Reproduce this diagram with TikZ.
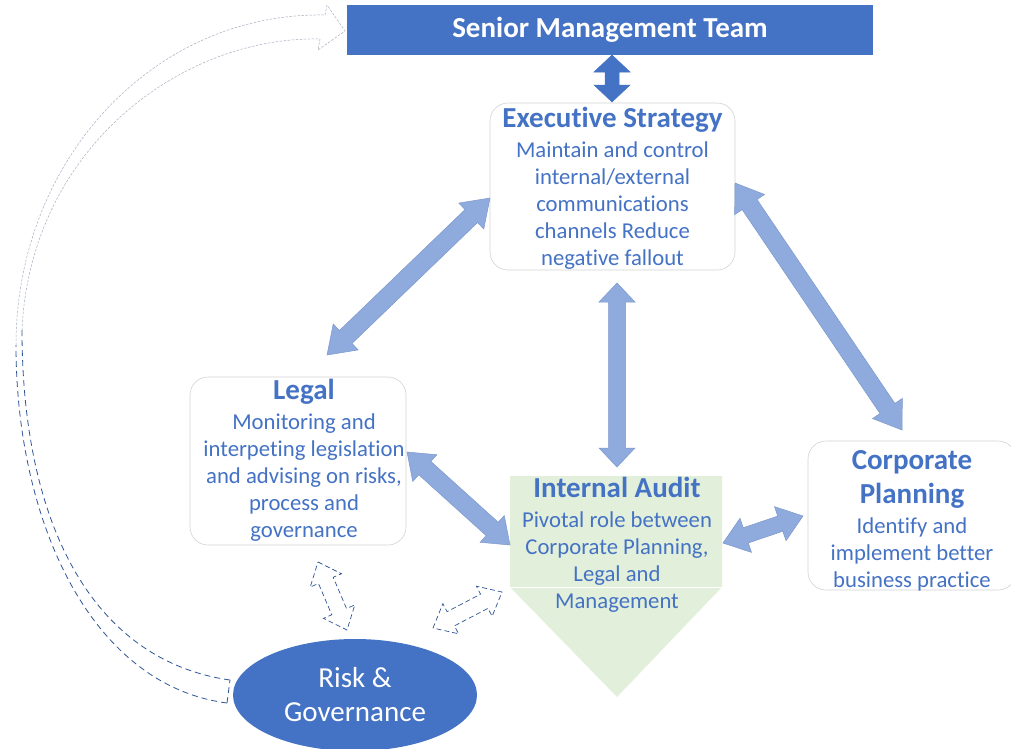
\documentclass[tikz,border=0pt]{standalone}
\usepackage{fontspec}
\setmainfont[Ligatures=NoCommon]{Carlito}
\usetikzlibrary{calc,shapes.geometric}
\definecolor{mblue}{HTML}{4472C4}
\definecolor{lblue}{HTML}{8FAADC}
\definecolor{lblueb}{HTML}{7C98CC}
\definecolor{dblue}{HTML}{2F5597}
\definecolor{lgreen}{HTML}{E2EFDA}
\definecolor{boxb}{HTML}{D3D3D3}
\definecolor{curvegray}{HTML}{A6AEBF}
\newcommand\dblarr[6]{%
  \coordinate (da1) at ($(#2)!#6!(#3)$);
  \coordinate (da2) at ($(#3)!#6!(#2)$);
  \draw[#1] (#2) -- ($(da1)!#5!90:(#3)$) -- ($(da1)!#4!90:(#3)$) -- ($(da2)!#4!90:(#3)$) -- ($(da2)!#5!90:(#3)$) -- (#3) -- ($(da2)!#5!-90:(#3)$) -- ($(da2)!#4!-90:(#3)$) -- ($(da1)!#4!-90:(#3)$) -- ($(da1)!#5!-90:(#3)$) -- cycle;
}
\tikzset{
  infobox/.style={draw=boxb, fill=white, rounded corners=18pt, inner sep=0pt, line width=0.6pt},
  infotext/.style={text=mblue, align=center, inner sep=0pt, font=\fontsize{22.7}{27}\selectfont},
  barrow/.style={fill=lblue, draw=lblueb, line width=0.5pt},
  darrow/.style={fill=mblue, draw=mblue, line width=0.5pt},
  dasharrow/.style={draw=dblue, line width=0.7pt, dash pattern=on 5pt off 3pt},
  curveA/.style={draw=curvegray, line width=0.5pt, dash pattern=on 2.5pt off 1.5pt},
  curveB/.style={draw=dblue, line width=0.8pt, dash pattern=on 6pt off 4pt},
}
\newcommand\ttlfont{\fontsize{29}{32}\selectfont\bfseries}
\begin{document}
\begin{tikzpicture}[x=1pt,y=-1pt]
\useasboundingbox (0,0) rectangle (1011,748);
\fill[white] (0,0) rectangle (1011,748);

% Senior management team
\node[fill=mblue, minimum width=526pt, minimum height=50pt, inner sep=0pt, text=white, font=\fontsize{29}{32}\selectfont\bfseries] (smt) at (610,30) {Senior Management Team};

% Executive Strategy
\node[infobox, minimum width=245pt, minimum height=167pt] (es) at (612.5,186.5) {};
\node[infotext] (es-text) at (612.5,188.5)
 {{\ttlfont Executive Strategy}\\[3pt]Maintain and control\\internal/external\\communications\\channels Reduce\\negative fallout};

% Legal
\node[infobox, minimum width=216pt, minimum height=168pt] (legal) at (298,461) {};
\node[infotext] (legal-text) at (304,460)
 {{\ttlfont Legal}\\[3pt]Monitoring and\\interpeting legislation\\and advising on risks,\\process and\\governance};

% Corporate Planning
\node[infobox, minimum width=208pt, minimum height=149pt] (cp) at (912,515.5) {};
\node[infotext] (cp-text) at (912,521)
 {{\ttlfont Corporate}\\[7pt]{\ttlfont Planning}\\[3pt]Identify and\\implement better\\business practice};

% Internal Audit
\fill[lgreen] (510,476) -- (722,476) -- (722,587) -- (617,697) -- (510,587) -- cycle;
\draw[white, line width=0.6pt] (510,587) -- (722,587);
\node[infotext] (ia) at (617,544.5)
 {{\ttlfont Internal Audit}\\[3pt]Pivotal role between\\Corporate Planning,\\Legal and\\Management};

% Risk & Governance
\node[ellipse, fill=mblue, minimum width=244pt, minimum height=112pt, inner sep=0pt, text=white, align=center, font=\fontsize{29}{34}\selectfont] (rg) at (355,695) {Risk \&\\Governance};

% connector end points
\coordinate (smt-s) at (612,55);
\coordinate (es-n) at (612,102);
\coordinate (es-w) at (490,198);
\coordinate (legal-ne) at (327,355);
\coordinate (es-e) at (735,183);
\coordinate (cp-n) at (902,430);
\coordinate (es-s) at (617,283);
\coordinate (ia-n) at (617,467);
\coordinate (legal-e) at (407,452);
\coordinate (ia-w) at (510,545);
\coordinate (ia-e) at (723,543);
\coordinate (cp-w) at (803,516);
\coordinate (legal-s) at (318,562);
\coordinate (rg-n) at (347,630);
\coordinate (rg-ne) at (433,628);
\coordinate (ia-sw) at (502,592);

\dblarr{darrow}{smt-s}{es-n}{7pt}{18pt}{17pt}
\dblarr{barrow}{es-w}{legal-ne}{9pt}{18pt}{26pt}
\dblarr{barrow}{es-e}{cp-n}{9pt}{18pt}{26pt}
\dblarr{barrow}{es-s}{ia-n}{8.5pt}{18pt}{19pt}
\dblarr{barrow}{legal-e}{ia-w}{9pt}{18pt}{24pt}
\dblarr{barrow}{ia-e}{cp-w}{8pt}{18pt}{24pt}
\dblarr{dasharrow}{legal-s}{rg-n}{8pt}{17pt}{20pt}
\dblarr{dasharrow}{rg-ne}{ia-sw}{8pt}{17pt}{20pt}

% big curved dashed arrow from Risk & Governance to Senior Management Team
\coordinate (c-o1) at (227,703);
\coordinate (c-i1) at (230,680);
\coordinate (c-o2) at (16,345);
\coordinate (c-i2) at (22,330);
\coordinate (c-o3) at (325,15);
\coordinate (c-i3) at (320,39);
\coordinate (c-h1) at (327,5);
\coordinate (c-h2) at (318,50);
\coordinate (smt-w) at (345,31);
\draw[curveB] (c-o1) .. controls (90,685) and (16,520) .. (c-o2);
\draw[curveB] (c-i1) .. controls (90,660) and (22,520) .. (c-i2);
\draw[curveB] (c-o1) -- (c-i1);
\draw[curveA] (c-o2) .. controls (16,162) and (152,12) .. (c-o3);
\draw[curveA] (c-i2) .. controls (30,150) and (180,36) .. (c-i3);
\draw[curveA] (c-o3) -- (c-h1) -- (smt-w) -- (c-h2) -- (c-i3);
\end{tikzpicture}
\end{document}
